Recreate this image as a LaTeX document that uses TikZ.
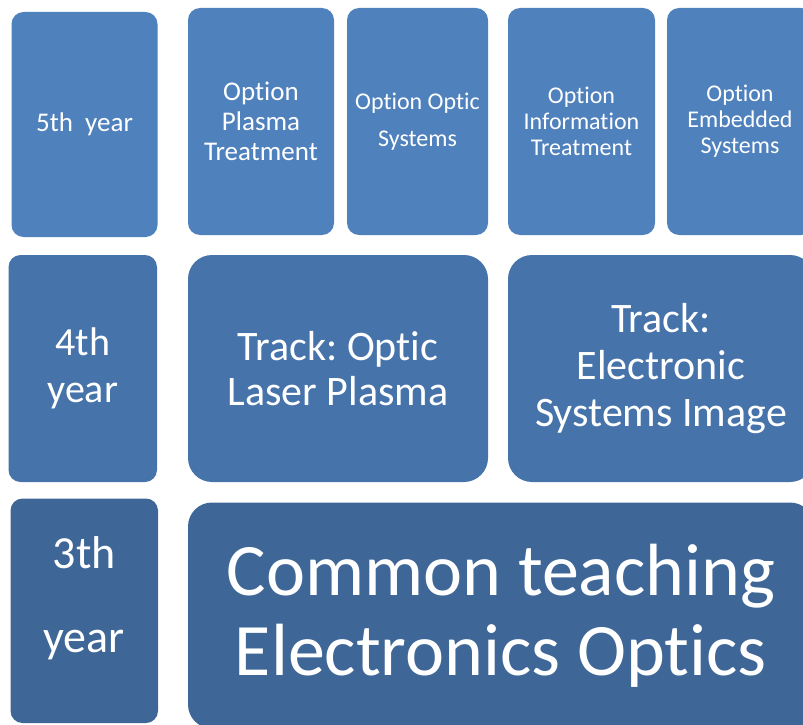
\documentclass[tikz,border=0pt]{standalone}
\usepackage{fontspec}
\setmainfont{Carlito}[Ligatures=NoCommon]
\frenchspacing
\definecolor{rowfive}{HTML}{4F81BD}
\definecolor{rowfour}{HTML}{4673AA}
\definecolor{rowthree}{HTML}{3E6697}
\tikzset{
  blk/.style={rectangle,rounded corners=12pt,inner sep=0pt,text=white,align=center},
  bigblk/.style={blk,rounded corners=24pt},
}
\newcommand{\fs}[2]{\fontsize{#1}{#2}\selectfont}

\begin{document}
\begin{tikzpicture}[x=1pt,y=-1pt]
    \useasboundingbox (0,0) rectangle (803,725);
    \clip (0,0) rectangle (803,725);

    % 5th year: options
    \node[blk,fill=rowfive,minimum width=146pt,minimum height=225pt,font=\fs{27}{30}] (y5) at (84.5,124.5)
      {5th\ \ year};
    \node[blk,fill=rowfive,minimum width=146pt,minimum height=227pt,font=\fs{27}{30}] (oplasma) at (261,121.5)
      {Option\\Plasma\\Treatment};
    \node[blk,fill=rowfive,minimum width=141pt,minimum height=227pt,font=\fs{24}{37}] (ooptic) at (417.5,121.5)
      {Option Optic\\Systems};
    \node[blk,fill=rowfive,minimum width=147pt,minimum height=227pt,font=\fs{24}{26}] (oinfo) at (581.5,121.5)
      {Option\\Information\\Treatment};
    \node[blk,fill=rowfive,minimum width=146pt,minimum height=227pt,font=\fs{24}{26}] (oembed) at (740,121.5)
      {Option\\Embedded\\Systems};

    % 4th year: tracks
    \node[blk,fill=rowfour,minimum width=148.5pt,minimum height=227pt,font=\fs{40}{47}] (y4) at (82.75,368.5)
      {4th\\year};
    \node[bigblk,fill=rowfour,minimum width=300pt,minimum height=227pt,font=\fs{42}{45}] (toptic) at (338,368.5)
      {Track: Optic\\Laser Plasma};
    \node[bigblk,fill=rowfour,minimum width=306pt,minimum height=227pt,font=\fs{42}{47}] (telec) at (661,368.5)
      {Track:\\Electronic\\Systems Image};

    % 3th year: common part
    \node[blk,fill=rowthree,minimum width=147.5pt,minimum height=224.5pt] (y3) at (84.25,610.75) {};
    \node[text=white,align=center,inner sep=0pt,font=\fs{46}{84}] (y3txt) at ([yshift=12.5pt]y3.center)
      {3th\\year};
    \node[bigblk,fill=rowthree,minimum width=626pt,minimum height=226pt,font=\fs{74}{80}] (common) at (501,615.5)
      {Common teaching\\Electronics Optics};
\end{tikzpicture}
\end{document}
